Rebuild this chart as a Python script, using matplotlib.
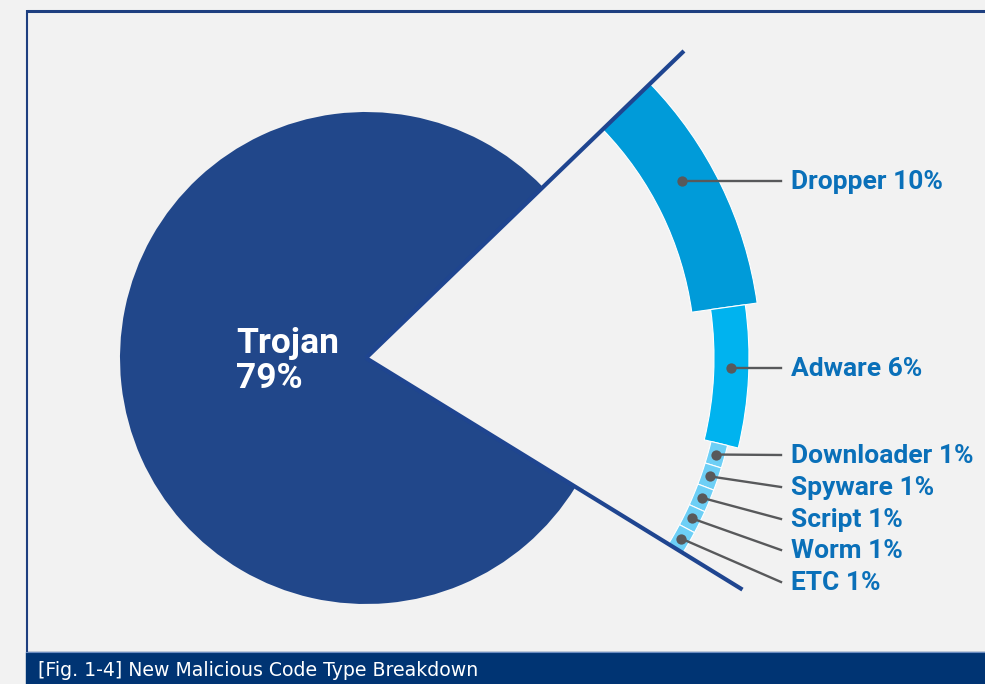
import numpy as np
import matplotlib
matplotlib.use("Agg")
import matplotlib.pyplot as plt
from matplotlib.patches import Rectangle

# data
main_label = "Trojan"
main_value = 79
categories = ["Dropper", "Adware", "Downloader", "Spyware", "Script", "Worm", "ETC"]
values = [10, 6, 1, 1, 1, 1, 1]
colors = ["#009bd9", "#00b3ef", "#6dcff6", "#6dcff6", "#6dcff6", "#6dcff6", "#6dcff6"]
caption = "[Fig. 1-4] New Malicious Code Type Breakdown"

W, H = 985, 684
fig = plt.figure(figsize=(W / 100, H / 100), dpi=100, facecolor="#f2f2f2")
ax = fig.add_axes([0, 0, 1, 1])
ax.set_facecolor("#f2f2f2")

def Y(y):
    return H - y

cx, cy = 366, Y(358)
r_pie = 246
start = 44.0
navy = "#21478a"

# big slice: Trojan
gap = 100 - main_value
ax.pie([main_value, gap], colors=[navy, "none"], radius=r_pie, center=(cx, cy),
       startangle=start, counterclock=True, wedgeprops=dict(linewidth=0))

# outer ring for the other types
ring_outer = [395, 383, 372, 372, 372, 372, 372]
ring_width = [66, 35, 17, 17, 17, 17, 17]
wedges, _ = ax.pie(values + [main_value], colors=colors + ["none"], radius=380,
                   center=(cx, cy), startangle=start, counterclock=False,
                   wedgeprops=dict(edgecolor="white", linewidth=0.8))
wedges[-1].set_edgecolor("none")
for w, ro, rw in zip(wedges[:-1], ring_outer, ring_width):
    w.set_radius(ro)
    w.set_width(rw)

# boundary lines of the cut-out
end = start - 360 * gap / 100
for a in (start, end):
    t = np.radians(a)
    ax.plot([cx, cx + 442 * np.cos(t)], [cy, cy + 442 * np.sin(t)],
            color="#1f4590", lw=3, solid_capstyle="butt", zorder=3)

# labels
label_y = [181, 368, 455, 487, 519, 550, 582]
label_x = 791
grey = "#58595b"
blue_txt = "#0a70b9"
cum = start
for i, (cat, v) in enumerate(zip(categories, values)):
    mid = cum - 360 * v / 100 / 2
    cum -= 360 * v / 100
    rm = ring_outer[i] - ring_width[i] / 2
    if v >= 5:
        # dot where the horizontal leader meets the ring
        ang = np.arcsin((Y(label_y[i]) - cy) / rm)
    else:
        ang = np.radians(mid)
    dx_, dy_ = cx + rm * np.cos(ang), cy + rm * np.sin(ang)
    ax.plot([dx_, 781], [dy_, Y(label_y[i])], color=grey, lw=1.7, zorder=4)
    ax.scatter([dx_], [dy_], s=55, color=grey, zorder=5, linewidths=0)
    ax.text(label_x, Y(label_y[i] + 1), f"{cat} {v}%", color=blue_txt, fontsize=19,
            fontweight="bold", family="Roboto", va="center", ha="left")

ax.text(236, Y(361), f"{main_label}\n{main_value}%", color="white", fontsize=25.5,
        fontweight="bold", family="Roboto", va="center", ha="left", linespacing=1.05)

# frame and caption bar
ax.plot([27, W], [Y(11), Y(11)], color="#1e3f80", lw=2.2, solid_capstyle="butt")
ax.plot([27, 27], [Y(10), Y(652)], color="#1e3f80", lw=1.5, solid_capstyle="butt")
ax.add_patch(Rectangle((26, 0), W - 26, Y(652), color="#003473", zorder=6))
ax.plot([26, W], [Y(651.5), Y(651.5)], color="#6b8cc0", lw=0.8, zorder=7)
ax.text(38, Y(670), caption, color="white", fontsize=13.6,
        family="DejaVu Sans", va="center", ha="left", zorder=8)

ax.set_xlim(0, W)
ax.set_ylim(0, H)
ax.set_aspect("equal")
ax.axis("off")

fig.savefig("out.png", dpi=100, facecolor=fig.get_facecolor())
